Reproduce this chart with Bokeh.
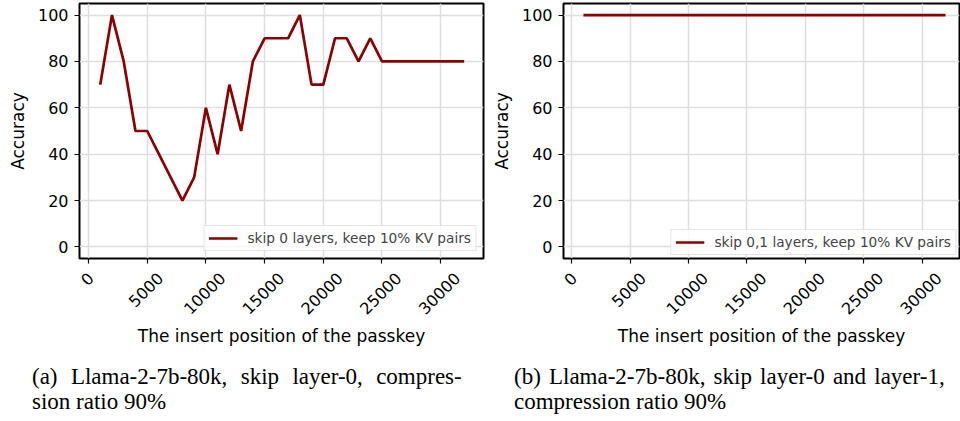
import math
from bokeh.plotting import figure
from bokeh.models import Range1d, Legend, LegendItem, Div, FixedTicker, ColumnDataSource
from bokeh.core.properties import value
from bokeh.layouts import row, column
from bokeh.embed import file_html
from bokeh.resources import INLINE

# insert positions of the passkey
positions = [1000, 2000, 3000, 4000, 5000, 6000, 7000, 8000, 9000, 10000,
             11000, 12000, 13000, 14000, 15000, 16000, 17000, 18000, 19000, 20000,
             21000, 22000, 23000, 24000, 25000, 26000, 27000, 28000, 29000, 30000,
             31000, 32000]
# accuracy, skip layer 0
acc_skip0 = [70, 100, 80, 50, 50, 40, 30, 20, 30, 60,
             40, 70, 50, 80, 90, 90, 90, 100, 70, 70,
             90, 90, 80, 90, 80, 80, 80, 80, 80, 80,
             80, 80]
# accuracy, skip layers 0 and 1
acc_skip01 = [100, 100, 100, 100, 100, 100, 100, 100, 100, 100,
              100, 100, 100, 100, 100, 100, 100, 100, 100, 100,
              100, 100, 100, 100, 100, 100, 100, 100, 100, 100,
              100, 100]

x_ticks = [0, 5000, 10000, 15000, 20000, 25000, 30000]
x_tick_labels = ["0", "5000", "10000", "15000", "20000", "25000", "30000"]
y_ticks = [0, 20, 40, 60, 80, 100]
labels = ["skip 0 layers, keep 10% KV pairs", "skip 0,1 layers, keep 10% KV pairs"]
caption_a = ["(a) Llama-2-7b-80k, skip layer-0, compres-", "sion ratio 90%"]
caption_b = ["(b) Llama-2-7b-80k, skip layer-0 and layer-1,", "compression ratio 90%"]

FONT = "DejaVu Sans"
TICK_FS = 16
FIG_H = 364
FRAME_TOP = 3
FRAME_BOTTOM = 258


def make_fig(ys, label, width, border_left, border_right, x_start, x_end, leg_margin):
    y_range = Range1d(-5, 105)
    p = figure(width=width, height=FIG_H, output_backend="svg", toolbar_location=None,
               x_range=Range1d(x_start, x_end), y_range=y_range,
               min_border_left=border_left, min_border_right=border_right,
               min_border_top=FRAME_TOP, min_border_bottom=FIG_H - FRAME_BOTTOM)
    r = p.line(positions, ys, line_color="#8b0000", line_width=2.7)
    p.outline_line_color = "black"
    p.outline_line_width = 2
    for ax in (p.xaxis[0], p.yaxis[0]):
        ax.axis_line_color = None
        ax.major_tick_line_color = "black"
        ax.major_tick_line_width = 1.2
        ax.major_tick_out = 5
        ax.major_tick_in = 0
        ax.minor_tick_line_color = None
        ax.major_label_text_font = FONT
        ax.major_label_text_font_size = "%dpx" % TICK_FS
        ax.major_label_text_color = "black"
        ax.axis_label_text_font = FONT
        ax.axis_label_text_font_size = "17px"
        ax.axis_label_text_font_style = "normal"
        ax.axis_label_text_color = "black"
    p.xaxis.ticker = FixedTicker(ticks=x_ticks)
    p.yaxis.ticker = FixedTicker(ticks=y_ticks)
    # x tick labels are drawn below as rotated, centred labels (matplotlib style)
    p.xaxis.major_label_overrides = {t: "" for t in x_ticks}
    p.xaxis.major_label_standoff = 0
    p.xaxis.axis_label = "The insert position of the passkey"
    p.xaxis.axis_label_standoff = 62
    p.yaxis.axis_label = "Accuracy"
    p.yaxis.axis_label_standoff = 7
    p.yaxis.major_label_standoff = 6
    p.grid.grid_line_color = "#dedede"
    p.grid.grid_line_width = 1.5

    digit_w = 0.636 * TICK_FS
    offs = [(12.5 + (len(s) * digit_w + 12) * 0.354) for s in x_tick_labels]
    src = ColumnDataSource(dict(x=x_ticks, y=[y_range.start] * len(x_ticks),
                                text=x_tick_labels, yoff=offs))
    p.text(x="x", y="y", text="text", source=src, y_offset="yoff", x_offset=-1.5,
           angle=math.pi / 4, text_align="center", text_baseline="middle",
           text_font=value(FONT), text_font_size="%dpx" % TICK_FS, text_color="black",
           level="overlay")

    legend = Legend(items=[LegendItem(label=label, renderers=[r])], location="bottom_right",
                    label_text_font=FONT, label_text_font_size="13.7px",
                    glyph_width=29, glyph_height=16, label_height=16,
                    label_standoff=10, padding=4, spacing=0, margin=leg_margin,
                    border_line_color="#cccccc", border_line_width=1,
                    background_fill_alpha=0.8)
    p.add_layout(legend)
    return p


p1 = make_fig(acc_skip0, labels[0], 488, 79, 5, -767, 33646, 7)
p2 = make_fig(acc_skip01, labels[1], 472, 73, 1, -707, 33194, 3)

cap_style = {"font-family": "Liberation Serif", "font-size": "23px", "line-height": "25px",
             "color": "black", "white-space": "nowrap"}


def caption_html(lines, spacing):
    return ('<span style="word-spacing:%s">%s</span><br>%s' % (spacing, lines[0], lines[1]))


d1 = Div(text=caption_html(caption_a, "7.6px"), width=488,
         styles=dict(cap_style, **{"padding-left": "32px"}), margin=(0, 0, 0, 0))
d2 = Div(text=caption_html(caption_b, "2.4px"), width=472,
         styles=dict(cap_style, **{"padding-left": "26px"}), margin=(0, 0, 0, 0))

layout = row(column(p1, d1, spacing=0), column(p2, d2, spacing=0), spacing=0)

open("out.html", "w").write(file_html(layout, INLINE))
